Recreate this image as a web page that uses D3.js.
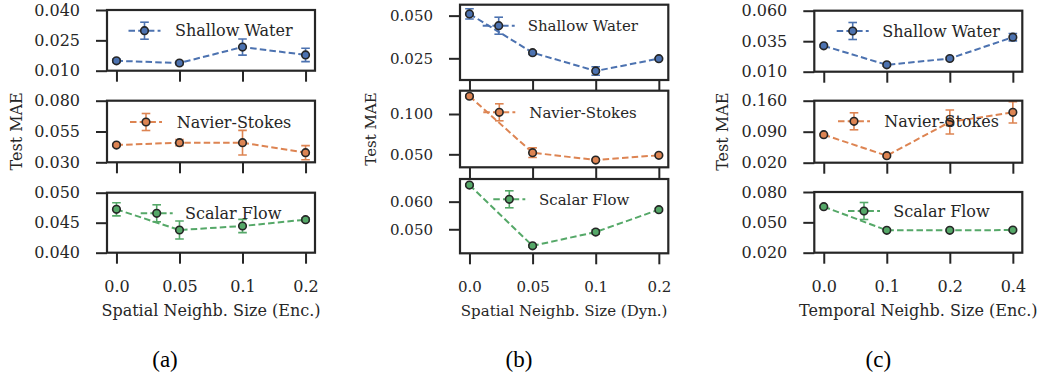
<!DOCTYPE html>
<html>
<head>
<meta charset="utf-8">
<script src="https://cdn.jsdelivr.net/npm/d3@7"></script>
<style>
  body { margin: 0; background: #fff; }
  svg { display: block; }
</style>
</head>
<body>
<div id="chart"></div>
<script>
// [1] DATA
const datasets = ['Shallow Water', 'Navier-Stokes', 'Scalar Flow'];
const colors = ['#4c72b0', '#dd8452', '#55a868'];

// (a) spatial neighbourhood size, encoder
const sizesEncA = ['0.0', '0.05', '0.1', '0.2'];
const maeA = [
  [0.0149, 0.0138, 0.0217, 0.0178],
  [0.0440, 0.0459, 0.0459, 0.0378],
  [0.04723, 0.04378, 0.04445, 0.0455],
];
const errA = [
  [0.0008, 0.0008, 0.0040, 0.0033],
  [0.0012, 0.0025, 0.0100, 0.0057],
  [0.0011, 0.0015, 0.0011, 0.0003],
];
const yTicksA = [[0.010, 0.025, 0.040], [0.030, 0.055, 0.080], [0.040, 0.045, 0.050]];

// (b) spatial neighbourhood size, dynamics
const sizesDynB = ['0.0', '0.05', '0.1', '0.2'];
const maeB = [
  [0.0510, 0.0283, 0.0176, 0.0248],
  [0.1220, 0.0520, 0.0429, 0.0488],
  [0.0660, 0.0440, 0.0490, 0.0571],
];
const errB = [
  [0.0030, 0.0010, 0.0025, 0.0005],
  [0.0020, 0.0060, 0.0010, 0.0010],
  [0.0005, 0.0005, 0.0008, 0.0005],
];
const yTicksB = [[0.025, 0.050], [0.050, 0.100], [0.050, 0.060]];

// (c) temporal neighbourhood size, encoder
const sizesTempC = ['0.0', '0.1', '0.2', '0.4'];
const maeC = [
  [0.0312, 0.0156, 0.0208, 0.0383],
  [0.0832, 0.0358, 0.1119, 0.1338],
  [0.0655, 0.0421, 0.0421, 0.0424],
];
const errC = [
  [0.0010, 0.0010, 0.0010, 0.0030],
  [0.0020, 0.0020, 0.0270, 0.0240],
  [0.0010, 0.0010, 0.0010, 0.0010],
];
const yTicksC = [[0.010, 0.035, 0.060], [0.020, 0.090, 0.160], [0.020, 0.050, 0.080]];

// [2] LAYOUT (each panel is its own figure, so boxes differ a bit)
const panels = [
  {
    caption: '(a)', xLabel: 'Spatial Neighb. Size (Enc.)', xs: sizesEncA, mae: maeA, err: errA, ticks: yTicksA,
    domains: [[0.010, 0.040], [0.030, 0.080], [0.040, 0.050]],
    left: 107, right: 315, rows: [[10, 70.7], [100.7, 162.3], [192.7, 252.7]],
    legends: [[144.5, 30.7, 175], [146, 122, 176.7], [156.7, 213.3, 185]],
    fs: 16, tickLabelY: 292, xLabelY: 315.5, yLabelX: 22, captionX: 165,
  },
  {
    caption: '(b)', xLabel: 'Spatial Neighb. Size (Dyn.)', xs: sizesDynB, mae: maeB, err: errB, ticks: yTicksB,
    domains: [[0.0123, 0.0564], [0.0339, 0.1289], [0.0413, 0.0682]],
    left: 460, right: 668.3, rows: [[4.7, 80], [90.7, 167.3], [179, 253.3]],
    legends: [[498.7, 25.7, 527.7], [499.3, 112.3, 529.3], [509.3, 199.3, 539]],
    fs: 15, tickLabelY: 291.7, xLabelY: 315.5, yLabelX: 376, captionX: 519,
  },
  {
    caption: '(c)', xLabel: 'Temporal Neighb. Size (Enc.)', xs: sizesTempC, mae: maeC, err: errC, ticks: yTicksC,
    domains: [[0.010, 0.060], [0.020, 0.160], [0.020, 0.080]],
    left: 814.3, right: 1022.3, rows: [[10.7, 71.7], [100.7, 162.7], [192, 252.7]],
    legends: [[852.7, 31, 882.3], [854, 121.3, 884.3], [864, 211, 893.3]],
    fs: 16, tickLabelY: 291.7, xLabelY: 315.5, yLabelX: 728, captionX: 878.3,
  },
];

const width = 1042;
const height = 379;
const ink = '#262626';
const font = "'DejaVu Serif', serif";
const tickLen = 11;

// [3] DRAW IMAGE
const svg = d3.select('#chart').append('svg').attr('width', width).attr('height', height);

const drawMarker = (g, x, y, color) =>
  g.append('circle').attr('cx', x).attr('cy', y).attr('r', 3.8)
    .attr('fill', color).attr('stroke', ink).attr('stroke-width', 1.6);

const drawErr = (g, x, y0, y1, color) => {
  g.append('line').attr('x1', x).attr('x2', x).attr('y1', y0).attr('y2', y1)
    .attr('stroke', color).attr('stroke-width', 1.6);
  [y0, y1].forEach((y) =>
    g.append('line').attr('x1', x - 4.3).attr('x2', x + 4.3).attr('y1', y).attr('y2', y)
      .attr('stroke', color).attr('stroke-width', 1.6));
};

panels.forEach((p) => {
  const n = p.xs.length;
  // [4] SCALES -> categorical positions with matplotlib-style 5% margins
  const xScale = d3.scaleLinear().domain([-0.05 * (n - 1), (n - 1) * 1.05]).range([p.left, p.right]);

  p.rows.forEach(([top, bottom], k) => {
    const g = svg.append('g');
    const yScale = d3.scaleLinear().domain(p.domains[k]).range([bottom, top]);
    const color = colors[k];

    // y axis ticks + labels
    const yAxis = d3.axisLeft(yScale).tickValues(p.ticks[k]).tickSize(tickLen).tickPadding(16)
      .tickFormat(d3.format('.3f'));
    const ya = g.append('g').attr('transform', `translate(${p.left},0)`).call(yAxis);
    ya.select('.domain').remove();
    ya.selectAll('line').attr('stroke', ink).attr('stroke-width', 2);
    ya.selectAll('text').attr('fill', ink).style('font-family', font).style('font-size', `${p.fs}px`);

    // x ticks below every subplot, labels only on the last one
    const xAxis = d3.axisBottom(xScale).tickValues(d3.range(n)).tickSize(tickLen)
      .tickFormat(k === 2 ? (i) => p.xs[i] : () => '');
    const xa = g.append('g').attr('transform', `translate(0,${bottom})`).call(xAxis);
    xa.select('.domain').remove();
    xa.selectAll('line').attr('stroke', ink).attr('stroke-width', 2);
    xa.selectAll('text').attr('fill', ink).attr('y', p.tickLabelY - bottom).attr('dy', null)
      .style('font-family', font).style('font-size', `${p.fs}px`);

    // data: error bars, dashed line, markers
    const pts = p.mae[k].map((v, i) => ({ i, v, e: p.err[k][i] }));
    const clip = `clip-${p.caption[1]}-${k}`;
    g.append('clipPath').attr('id', clip).append('rect')
      .attr('x', p.left).attr('y', top).attr('width', p.right - p.left).attr('height', bottom - top);
    const data = g.append('g').attr('clip-path', `url(#${clip})`);
    pts.forEach((d) => drawErr(data, xScale(d.i), yScale(d.v + d.e), yScale(d.v - d.e), color));
    data.append('path').datum(pts)
      .attr('d', d3.line().x((d) => xScale(d.i)).y((d) => yScale(d.v)))
      .attr('fill', 'none').attr('stroke', color).attr('stroke-width', 2)
      .attr('stroke-dasharray', '6.5,3.2');
    pts.forEach((d) => drawMarker(data, xScale(d.i), yScale(d.v), color));

    // legend (errorbar handle, no frame)
    const [mx, my, tx] = p.legends[k];
    const lg = g.append('g');
    lg.append('line').attr('x1', mx - 16).attr('x2', mx + 16).attr('y1', my).attr('y2', my)
      .attr('stroke', color).attr('stroke-width', 2).attr('stroke-dasharray', '6.5,3.2');
    drawErr(lg, mx, my - 8.5, my + 8.5, color);
    drawMarker(lg, mx, my, color);
    lg.append('text').attr('x', tx).attr('y', my + p.fs * 0.36)
      .attr('fill', ink).style('font-family', font).style('font-size', `${p.fs}px`)
      .text(datasets[k]);

    // frame
    g.append('rect').attr('x', p.left).attr('y', top)
      .attr('width', p.right - p.left).attr('height', bottom - top)
      .attr('fill', 'none').attr('stroke', ink).attr('stroke-width', 2.2);
  });

  // axis labels
  svg.append('text').attr('x', (p.left + p.right) / 2).attr('y', p.xLabelY)
    .attr('text-anchor', 'middle').attr('fill', ink)
    .style('font-family', font).style('font-size', `${p.fs}px`).text(p.xLabel);

  const midY = (p.rows[0][0] + p.rows[2][1]) / 2;
  svg.append('text').attr('transform', `translate(${p.yLabelX},${midY}) rotate(-90)`)
    .attr('text-anchor', 'middle').attr('fill', ink)
    .style('font-family', font).style('font-size', `${p.fs}px`).text('Test MAE');

  svg.append('text').attr('x', p.captionX).attr('y', 366.5).attr('text-anchor', 'middle')
    .attr('fill', '#000').style('font-family', "'Liberation Serif', serif").style('font-size', '23px')
    .text(p.caption);
});
</script>
</body>
</html>
